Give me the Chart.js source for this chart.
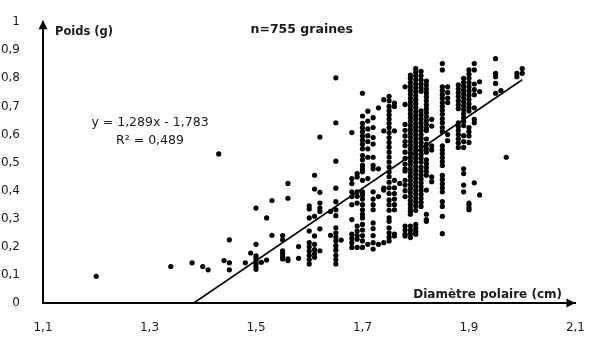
<!DOCTYPE html>
<html>
<head>
<meta charset="utf-8">
<script src="https://cdn.jsdelivr.net/npm/chart.js@4.4.1/dist/chart.umd.min.js"></script>
<style>
  html, body { margin: 0; padding: 0; background: #fff; }
  #wrap { width: 595px; height: 338px; }
</style>
</head>
<body>
<div id="wrap"><canvas id="myChart" width="595" height="338"></canvas></div>
<script>
// diamètre polaire (cm) : one entry per column of seeds
var colX = [1.20, 1.34, 1.38, 1.40, 1.41, 1.43, 1.44, 1.45, 1.48, 1.49,
    1.50, 1.51, 1.52, 1.53, 1.55, 1.56, 1.58, 1.60, 1.61, 1.62,
    1.64, 1.65, 1.66, 1.68, 1.69, 1.70, 1.71, 1.72, 1.73, 1.74,
    1.75, 1.76, 1.77, 1.78, 1.79, 1.80, 1.81, 1.82, 1.83, 1.85,
    1.86, 1.88, 1.89, 1.90, 1.91, 1.92, 1.95, 1.96, 1.97, 1.99, 2.00];

// poids (g) read for each column
var colY = [
    [0.095],
    [0.13],
    [0.143],
    [0.13],
    [0.118],
    [0.531],
    [0.151],
    [0.225, 0.143, 0.118],
    [0.143],
    [0.178],
    [0.338, 0.209, 0.168, 0.16, 0.15, 0.14, 0.13, 0.12],
    [0.145],
    [0.303, 0.153],
    [0.365, 0.241],
    [0.24, 0.225, 0.186, 0.175, 0.165, 0.157],
    [0.426, 0.373, 0.157, 0.151],
    [0.201, 0.159],
    [0.346, 0.335, 0.303, 0.256, 0.215, 0.2, 0.185, 0.17, 0.155, 0.139],
    [0.455, 0.406, 0.309, 0.239, 0.209, 0.19, 0.175, 0.163],
    [0.591, 0.394, 0.356, 0.338, 0.326, 0.264, 0.186],
    [0.326, 0.241],
    [0.802, 0.642, 0.505, 0.409, 0.361, 0.332, 0.311, 0.268, 0.25, 0.235, 0.221, 0.204, 0.188, 0.17, 0.155, 0.139],
    [0.224],
    [0.607, 0.443, 0.426, 0.396, 0.379, 0.35, 0.297, 0.245, 0.23, 0.215, 0.198],
    [0.461, 0.449, 0.396, 0.38, 0.356, 0.274, 0.256, 0.24, 0.227, 0.198],
    [0.747, 0.666, 0.64, 0.625, 0.61, 0.595, 0.58, 0.565, 0.549, 0.525, 0.51, 0.49, 0.478, 0.467, 0.437,
        0.396, 0.385, 0.37, 0.35, 0.332, 0.316, 0.303, 0.28, 0.26, 0.24, 0.221, 0.198],
    [0.683, 0.648, 0.62, 0.596, 0.575, 0.549, 0.519, 0.443, 0.209],
    [0.66, 0.625, 0.589, 0.566, 0.519, 0.49, 0.478, 0.396, 0.37, 0.35, 0.332, 0.285, 0.265, 0.24, 0.215, 0.192],
    [0.695, 0.478, 0.379, 0.209],
    [0.724, 0.613, 0.409, 0.402, 0.215],
    [0.736, 0.72, 0.7, 0.685, 0.67, 0.655, 0.64, 0.625, 0.607, 0.589, 0.572, 0.555, 0.537, 0.52, 0.502,
        0.484, 0.467, 0.45, 0.43, 0.41, 0.39, 0.367, 0.35, 0.33, 0.303, 0.291, 0.268, 0.25, 0.235, 0.221],
    [0.712, 0.7, 0.613, 0.437, 0.41, 0.39, 0.37, 0.35, 0.332, 0.245, 0.239],
    [0.426],
    [0.77, 0.707, 0.636, 0.615, 0.595, 0.575, 0.56, 0.537, 0.515, 0.495, 0.478, 0.47, 0.437, 0.42, 0.4,
        0.379, 0.274, 0.26, 0.245, 0.239],
    [0.812, 0.8, 0.786, 0.772, 0.758, 0.744, 0.73, 0.716, 0.702, 0.688, 0.674, 0.66, 0.646, 0.632, 0.618,
        0.604, 0.59, 0.576, 0.562, 0.548, 0.534, 0.52, 0.506, 0.492, 0.478, 0.464, 0.45, 0.436, 0.422, 0.408,
        0.394, 0.38, 0.366, 0.352, 0.338, 0.326, 0.316, 0.274, 0.26, 0.247, 0.233],
    [0.835, 0.822, 0.808, 0.795, 0.78, 0.766, 0.752, 0.738, 0.724, 0.71, 0.696, 0.682, 0.668, 0.654, 0.64,
        0.626, 0.612, 0.598, 0.584, 0.57, 0.556, 0.542, 0.528, 0.514, 0.5, 0.486, 0.472, 0.458, 0.444, 0.43,
        0.416, 0.402, 0.388, 0.374, 0.36, 0.346, 0.33, 0.28, 0.266, 0.255, 0.245],
    [0.825, 0.81, 0.795, 0.78, 0.766, 0.754, 0.684, 0.67, 0.656, 0.642, 0.628, 0.614, 0.6, 0.586, 0.572,
        0.558, 0.544, 0.53, 0.516, 0.502, 0.484, 0.47, 0.456, 0.442, 0.428, 0.414, 0.4, 0.386, 0.372, 0.358, 0.344],
    [0.79, 0.776, 0.762, 0.748, 0.734, 0.72, 0.706, 0.692, 0.678, 0.664, 0.65, 0.636, 0.622, 0.614, 0.584,
        0.565, 0.55, 0.537, 0.51, 0.496, 0.482, 0.468, 0.455, 0.402, 0.316, 0.297, 0.291],
    [0.654, 0.63, 0.56, 0.545, 0.449, 0.432],
    [0.853, 0.83, 0.77, 0.756, 0.742, 0.728, 0.714, 0.7, 0.686, 0.672, 0.656, 0.642, 0.625, 0.61, 0.56,
        0.546, 0.532, 0.518, 0.504, 0.49, 0.455, 0.44, 0.425, 0.41, 0.396, 0.361, 0.344, 0.309, 0.247],
    [0.77, 0.75, 0.73, 0.714, 0.6, 0.578],
    [0.777, 0.763, 0.749, 0.735, 0.72, 0.706, 0.692, 0.642, 0.628, 0.614, 0.6, 0.585, 0.57, 0.554],
    [0.8, 0.786, 0.772, 0.758, 0.744, 0.73, 0.716, 0.702, 0.688, 0.674, 0.66, 0.646, 0.632, 0.596, 0.575,
        0.554, 0.478, 0.461, 0.42, 0.396],
    [0.83, 0.815, 0.8, 0.785, 0.77, 0.755, 0.74, 0.725, 0.71, 0.696, 0.684, 0.625, 0.61, 0.595, 0.572,
        0.356, 0.35, 0.338, 0.332],
    [0.853, 0.83, 0.78, 0.76, 0.742, 0.695, 0.654, 0.642, 0.428],
    [0.788, 0.753, 0.385],
    [0.87, 0.818, 0.806, 0.782, 0.747],
    [0.756],
    [0.519],
    [0.818, 0.806],
    [0.835, 0.818]
];

var xTicks = [1.1, 1.3, 1.5, 1.7, 1.9, 2.1];
var yTicks = [0, 0.1, 0.2, 0.3, 0.4, 0.5, 0.6, 0.7, 0.8, 0.9, 1];

// courbe de tendance linéaire
var slope = 1.289;
var intercept = -1.783;
var trendX = [-intercept / slope, 2.0];

var points = [];
colX.forEach(function (x, i) {
    colY[i].forEach(function (y) {
        points.push({ x: x, y: y });
    });
});
var trend = trendX.map(function (x) {
    return { x: x, y: slope * x + intercept };
});

function virgule(v) {
    return v === 0 || v === 1 ? String(v) : v.toFixed(1).replace(".", ",");
}

var labelsPlugin = {
    id: "labels",
    afterDraw: function (chart) {
        var ctx = chart.ctx;
        var a = chart.chartArea;
        ctx.save();
        // arrow heads on the axes
        ctx.fillStyle = "#000";
        ctx.beginPath();
        ctx.moveTo(a.left, a.top - 2);
        ctx.lineTo(a.left - 4.5, a.top + 7);
        ctx.lineTo(a.left + 4.5, a.top + 7);
        ctx.closePath();
        ctx.fill();
        ctx.beginPath();
        ctx.moveTo(a.right, a.bottom);
        ctx.lineTo(a.right - 9, a.bottom - 4.5);
        ctx.lineTo(a.right - 9, a.bottom + 4.5);
        ctx.closePath();
        ctx.fill();

        ctx.fillStyle = "#1a1a1a";
        ctx.textBaseline = "middle";
        ctx.font = "bold 11.5px 'DejaVu Sans'";
        ctx.textAlign = "left";
        ctx.fillText("Poids (g)", 55, 32);
        ctx.font = "bold 12.5px 'DejaVu Sans'";
        ctx.textAlign = "right";
        ctx.fillText("n=755 graines", 353, 30);
        ctx.font = "bold 12px 'DejaVu Sans'";
        ctx.fillText("Diamètre polaire (cm)", 562, 295);
        ctx.font = "12.5px 'DejaVu Sans'";
        ctx.textAlign = "center";
        ctx.fillText("y = 1,289x - 1,783", 150, 123);
        ctx.fillText("R² = 0,489", 150, 141);
        ctx.restore();
    },
};

var ctx = document.getElementById("myChart").getContext("2d");

var myChart = new Chart(ctx, {
    type: "scatter",
    data: {
        datasets: [
            {
                label: "Poids",
                data: points,
                backgroundColor: "#000",
                borderWidth: 0,
                pointRadius: 2.6,
            },
            {
                type: "line",
                label: "Tendance",
                data: trend,
                borderColor: "#000",
                borderWidth: 1.6,
                pointRadius: 0,
                fill: false,
            },
        ],
    },
    options: {
        responsive: false,
        animation: false,
        layout: { padding: { top: 18, right: 10, left: 0, bottom: 0 } },
        plugins: { legend: { display: false }, tooltip: { enabled: false } },
        scales: {
            x: {
                type: "linear",
                min: 1.1,
                max: 2.1,
                grid: { display: false },
                border: { display: true, color: "#000", width: 2 },
                ticks: {
                    padding: 10,
                    color: "#1a1a1a",
                    font: { family: "DejaVu Sans", size: 12 },
                    callback: virgule,
                },
                afterBuildTicks: function (s) {
                    s.ticks = xTicks.map(function (v) { return { value: v }; });
                },
                afterFit: function (s) { s.height = 35; },
            },
            y: {
                min: 0,
                max: 1,
                grid: { display: false },
                border: { display: true, color: "#000", width: 2 },
                ticks: {
                    padding: 15,
                    color: "#1a1a1a",
                    font: { family: "DejaVu Sans", size: 12 },
                    callback: virgule,
                },
                afterBuildTicks: function (s) {
                    s.ticks = yTicks.map(function (v) { return { value: v }; });
                },
                afterFit: function (s) { s.width = 43; },
            },
        },
    },
    plugins: [labelsPlugin],
});
</script>
</body>
</html>
